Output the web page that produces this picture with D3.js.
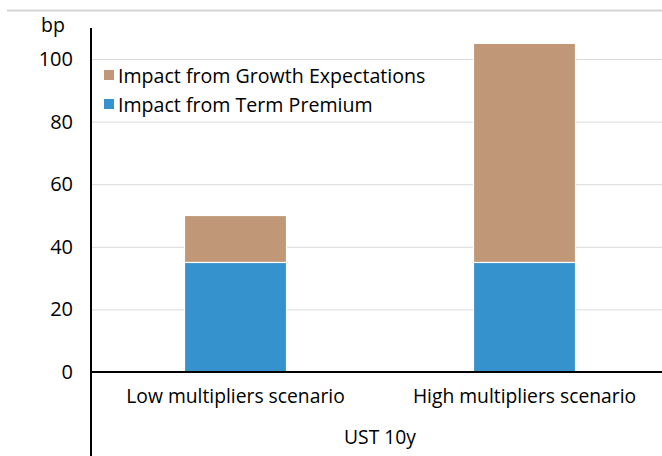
<!DOCTYPE html>
<html><head><meta charset="utf-8">
<script src="https://cdn.jsdelivr.net/npm/d3@7/dist/d3.min.js"></script>
<style>body{margin:0;background:#fff}svg{display:block}</style>
</head><body><svg id="c" width="662" height="456"></svg>
<script>
const categories = ["Low multipliers scenario", "High multipliers scenario"];
const seriesNames = ["Impact from Term Premium", "Impact from Growth Expectations"];
const termPremium = [35, 35];
const growthExpectations = [15, 70];
const yTicks = [0, 20, 40, 60, 80, 100];
const colors = ["#3592CC", "#C09878"];
const groupLabel = "UST 10y";
const unitLabel = "bp";

const svg = d3.select("#c");
const font = "'Open Sans', sans-serif";
const x = d3.scaleBand().domain(categories).range([91, 669]).paddingInner(0.647).paddingOuter(0.3235);
const y = d3.scaleLinear().domain([0, 100]).range([372, 59]);

// top rule
svg.append("line").attr("x1", 7).attr("x2", 662).attr("y1", 10.5).attr("y2", 10.5)
  .attr("stroke", "#d4d4d4").attr("stroke-width", 2);

// grid
svg.append("g").selectAll("line").data(yTicks.filter(d => d > 0)).join("line")
  .attr("x1", 91).attr("x2", 662).attr("y1", d => y(d) + 0.5).attr("y2", d => y(d) + 0.5)
  .attr("stroke", "#d9d9d9").attr("stroke-width", 1);

// bars
const data = categories.map((c, i) => ({cat: c, v: [termPremium[i], growthExpectations[i]]}));
const stack = d3.stack().keys([0, 1]).value((d, k) => d.v[k]);
const layers = stack(data);
svg.append("g").selectAll("g").data(layers).join("g")
  .attr("fill", (d, i) => colors[i])
  .selectAll("rect").data(d => d).join("rect")
  .attr("x", d => x(d.data.cat))
  .attr("width", x.bandwidth())
  .attr("y", d => y(d[1]))
  .attr("height", d => y(d[0]) - y(d[1]))
  .attr("stroke", "#fff").attr("stroke-width", 1.2);

// axes
const yAxis = d3.axisLeft(y).tickValues(yTicks).tickSize(0).tickPadding(18);
const gy = svg.append("g").attr("transform", "translate(91,0)").call(yAxis);
gy.select(".domain").remove();
gy.selectAll("text").attr("font-family", font).attr("font-size", 20).attr("fill", "#000");
svg.append("line").attr("x1", 91).attr("x2", 91).attr("y1", 28).attr("y2", 456)
  .attr("stroke", "#000").attr("stroke-width", 2);

const xAxis = d3.axisBottom(x).tickSize(0).tickPadding(17);
const gx = svg.append("g").attr("transform", "translate(0,372)").call(xAxis);
gx.select(".domain").remove();
gx.selectAll("text").attr("font-family", font).attr("font-size", 19.3).attr("fill", "#000");
svg.append("line").attr("x1", 91).attr("x2", 662).attr("y1", 372).attr("y2", 372)
  .attr("stroke", "#000").attr("stroke-width", 2);

svg.append("text").attr("x", 380).attr("y", 444).attr("text-anchor", "middle")
  .attr("font-family", font).attr("font-size", 19.3).text(groupLabel);
svg.append("text").attr("x", 53).attr("y", 32).attr("text-anchor", "middle")
  .attr("font-family", font).attr("font-size", 19.5).text(unitLabel);

// legend
const legendItems = [1, 0];
const lg = svg.append("g").selectAll("g").data(legendItems).join("g")
  .attr("transform", (d, i) => `translate(104,${76 + i * 29})`);
lg.append("rect").attr("x", 0).attr("y", -6).attr("width", 10).attr("height", 10).attr("fill", d => colors[d]);
lg.append("text").attr("x", 14).attr("y", 0).attr("dy", "0.35em")
  .attr("font-family", font).attr("font-size", 19.6).text(d => seriesNames[d]);
</script></body></html>
